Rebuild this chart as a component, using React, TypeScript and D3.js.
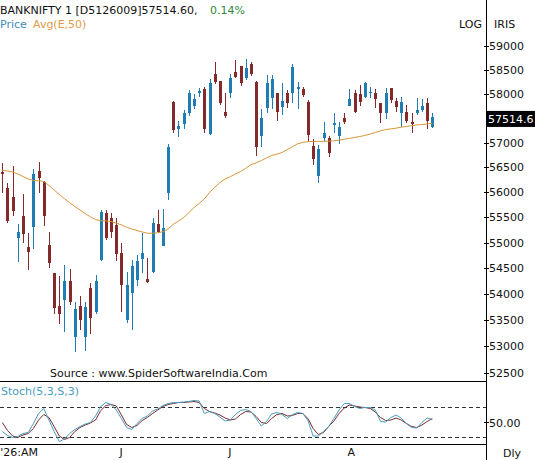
import * as d3 from "d3";

const dates = [
  "2026-04-27", "2026-04-28", "2026-04-29", "2026-04-30",
  "2026-05-04", "2026-05-05", "2026-05-06", "2026-05-07", "2026-05-08",
  "2026-05-11", "2026-05-12", "2026-05-13", "2026-05-14", "2026-05-15",
  "2026-05-18", "2026-05-19", "2026-05-20", "2026-05-21", "2026-05-22",
  "2026-05-25", "2026-05-26", "2026-05-28", "2026-05-29",
  "2026-06-01", "2026-06-02", "2026-06-03", "2026-06-04", "2026-06-05",
  "2026-06-08", "2026-06-09", "2026-06-10", "2026-06-11", "2026-06-12",
  "2026-06-15", "2026-06-16", "2026-06-17", "2026-06-18", "2026-06-19",
  "2026-06-22", "2026-06-23", "2026-06-24", "2026-06-25", "2026-06-29", "2026-06-30",
  "2026-07-01", "2026-07-02", "2026-07-03", "2026-07-06", "2026-07-07",
  "2026-07-08", "2026-07-09", "2026-07-10", "2026-07-13", "2026-07-14",
  "2026-07-15", "2026-07-16", "2026-07-17", "2026-07-20", "2026-07-21",
  "2026-07-22", "2026-07-23", "2026-07-24", "2026-07-27", "2026-07-28",
  "2026-07-29", "2026-07-30", "2026-07-31",
  "2026-08-03", "2026-08-04", "2026-08-05", "2026-08-06", "2026-08-07",
  "2026-08-10", "2026-08-11", "2026-08-12", "2026-08-13", "2026-08-14",
  "2026-08-17", "2026-08-18", "2026-08-19", "2026-08-20", "2026-08-21",
  "2026-08-24", "2026-08-25",
];

// open, high, low, close
const ohlc: [number, number, number, number][] = [
  [56410, 56580, 55980, 56360], [56080, 56180, 55390, 55430], [55910, 56530, 55530, 55625],
  [55100, 55370, 54630, 55215], [55525, 55965, 55000, 55165], [54920, 55185, 54465, 54825],
  [55315, 56465, 54875, 56365], [56425, 56600, 55990, 56290], [56210, 56220, 55335, 55530],
  [54955, 55205, 54500, 54610], [54400, 54410, 53615, 53725], [53770, 54350, 53420, 53610],
  [53885, 54565, 53280, 54260], [54255, 54480, 53790, 53855], [53185, 53855, 52900, 53715],
  [53770, 53960, 53310, 53500], [53185, 53855, 52920, 53755], [54125, 54220, 53230, 53535],
  [53650, 54370, 53610, 54255], [54660, 55645, 54650, 55605], [55585, 55645, 55050, 55090],
  [55485, 55580, 55100, 55210], [55350, 55480, 54640, 54770], [54790, 54985, 53660, 54175],
  [53500, 54420, 53440, 54175], [54015, 54660, 53310, 54545], [54270, 54760, 54160, 54640],
  [54675, 55185, 54400, 54790], [54290, 54705, 54210, 54230], [54420, 55490, 54410, 55380],
  [55360, 55645, 55185, 55205], [54935, 55665, 54925, 55285], [55990, 56965, 55845, 56905],
  [57840, 57845, 57200, 57260], [57280, 57440, 57110, 57340], [57380, 57670, 57280, 57610],
  [57610, 58080, 57550, 58025], [57750, 58000, 57680, 57890], [58010, 58115, 57940, 58065],
  [58095, 58135, 57190, 57270], [57170, 58305, 57160, 58220], [58415, 58665, 58205, 58245],
  [58270, 58275, 57770, 57820], [57620, 58010, 57495, 57550], [58010, 58405, 57910, 58325],
  [58450, 58705, 58325, 58355], [58580, 58585, 58165, 58220], [58325, 58720, 58290, 58530],
  [58625, 58670, 58370, 58415], [58255, 58260, 56730, 56915], [57135, 57680, 56915, 57495],
  [57705, 58395, 57600, 58235], [57910, 58395, 57680, 58310], [58010, 58015, 57450, 57635],
  [57725, 58220, 57565, 57860], [58025, 58080, 57705, 57805], [58010, 58625, 57820, 58565],
  [58100, 58255, 57680, 58135], [58095, 58150, 57940, 57975], [57840, 57875, 57020, 57145],
  [56930, 57075, 56545, 56670], [56325, 56950, 56190, 56870], [57090, 57425, 57020, 57190],
  [57090, 57135, 56715, 56795], [57360, 57600, 57190, 57395], [57135, 57425, 56970, 57325],
  [57495, 57600, 57380, 57425], [57750, 58095, 57745, 57890], [58010, 58080, 57600, 57635],
  [57995, 58185, 57750, 57825], [57940, 58255, 57910, 58220], [58025, 58150, 57910, 58035],
  [58010, 58095, 57705, 57890], [57805, 57810, 57395, 57600], [57600, 58115, 57475, 58025],
  [58115, 58120, 57805, 57875], [57860, 57910, 57635, 57725], [57600, 57940, 57325, 57840],
  [57620, 57770, 57405, 57450], [57415, 57600, 57190, 57380], [57600, 57910, 57565, 57670],
  [57670, 57890, 57635, 57750], [57820, 57910, 57270, 57434.2], [57325, 57600, 57290, 57514.6],
];

// Avg(E,50)
const ema50 = [
  56440, 56425, 56405, 56365, 56315, 56265, 56235, 56230, 56215, 56135,
  56045, 55955, 55870, 55790, 55715, 55645, 55575, 55510, 55455, 55435,
  55430, 55415, 55385, 55350, 55305, 55270, 55240, 55210, 55185, 55185,
  55195, 55215, 55270, 55360, 55425, 55495, 55590, 55695, 55775, 55865,
  55995, 56100, 56190, 56265, 56310, 56365, 56415, 56480, 56555, 56590,
  56635, 56690, 56740, 56765, 56800, 56860, 56915, 56975, 57005, 57020,
  57025, 57025, 57025, 57030, 57035, 57050, 57070, 57085, 57105, 57125,
  57145, 57175, 57205, 57240, 57265, 57280, 57295, 57315, 57330, 57345,
  57360, 57370, 57380, 57395,
];

// Stoch(5,3,S,3)
const stochK = [
  30, 22, 18, 20, 26, 28, 46, 66, 76, 53,
  30, 10, 15, 26, 34, 40, 45, 48, 61, 80,
  88, 84, 73, 56, 38, 34, 46, 56, 61, 71,
  75, 82, 86, 88, 88, 89, 90, 92, 91, 66,
  70, 66, 59, 51, 53, 64, 72, 74, 70, 56,
  41, 50, 65, 68, 64, 56, 64, 68, 66, 52,
  21, 21, 30, 40, 56, 73, 86, 86, 80, 76,
  78, 78, 73, 50, 49, 58, 63, 57, 46, 38,
  37, 48, 57, 54,
];
const stochD = [
  48, 32, 21, 18, 23, 26, 36, 53, 64, 58,
  40, 21, 14, 18, 30, 38, 43, 47, 53, 72,
  82, 84, 81, 63, 44, 38, 42, 52, 58, 66,
  73, 80, 84, 86, 88, 88, 89, 90, 88, 76,
  70, 67, 63, 57, 53, 55, 64, 70, 69, 60,
  48, 46, 56, 64, 66, 61, 62, 66, 66, 56,
  36, 24, 28, 40, 51, 66, 77, 83, 81, 79,
  78, 76, 69, 58, 52, 53, 57, 53, 46, 40,
  38, 43, 50, 56,
];

// 57500 sits under the last-price tag, so it gets no label
const priceTickLabels = [52500, 53000, 53500, 54000, 54500, 55000, 55500, 56000, 56500, 57000, 58000, 58500, 59000];
const stochLevels = [20, 80];
const monthLabels = [
  { date: "2026-04-27", text: "'26:AM" },
  { date: "2026-06-01", text: "J" },
  { date: "2026-07-01", text: "J" },
  { date: "2026-08-03", text: "A" },
];
const lastPrice = 57514.6;

const upColor = "#1f7db3";
const downColor = "#842a2a";
const font = "'DejaVu Sans', Verdana, sans-serif";

export default function App() {
  const width = 535;
  const height = 460;
  const axisX = 486;
  const panelTop = 381;
  const panelBottom = 444;

  const x = d3.scalePoint<string>().domain(dates).range([2.3, 432.3]);
  const y = d3.scaleLog().domain([52500, 59000]).range([373, 46]);
  const ys = d3.scaleLinear().domain([0, 100]).range([446.5, 396.5]);

  const cx = (i: number) => Math.round(x(dates[i]) ?? 0) + 0.5;

  const emaPath = d3.line<number>().x((_, i) => x(dates[i]) ?? 0).y((d) => y(d))(ema50) ?? "";
  const kPath = d3.line<number>().x((_, i) => x(dates[i]) ?? 0).y((d) => ys(d))(stochK) ?? "";
  const dPath = d3.line<number>().x((_, i) => x(dates[i]) ?? 0).y((d) => ys(d))(stochD) ?? "";

  return (
    <div>
      <style>{"body{margin:0}"}</style>
      <svg width={width} height={height} fontFamily={font} style={{ display: "block", background: "#fff" }}>
        {/* header */}
        <text x={0} y={14} fontSize={11} fill="#111">BANKNIFTY 1 [D5126009]57514.60,</text>
        <text x={210} y={14} fontSize={11} fill="#2f8a3a">0.14%</text>
        <text x={0} y={27.5} fontSize={11} fill="#3b8fb8">Price</text>
        <text x={33} y={27.5} fontSize={11} fill="#e19a48">Avg(E,50)</text>
        <text x={459} y={27.5} fontSize={11} fill="#111">LOG</text>
        <text x={494} y={27.5} fontSize={11} fill="#111">IRIS</text>

        {/* price axis */}
        <line x1={axisX + 0.5} x2={axisX + 0.5} y1={0} y2={height} stroke="#000" />
        {priceTickLabels.map((t) => (
          <g key={t}>
            <line x1={axisX - 2} x2={axisX + 3} y1={Math.round(y(t)) + 0.5} y2={Math.round(y(t)) + 0.5} stroke="#000" />
            <text x={axisX + 3} y={y(t) + 4} fontSize={11} fill="#111">{t}</text>
          </g>
        ))}

        {/* candles */}
        <g shapeRendering="crispEdges">
          {ohlc.map(([o, h, l, c], i) => {
            const col = c >= o ? upColor : downColor;
            const top = y(Math.max(o, c));
            const bot = y(Math.min(o, c));
            return (
              <g key={dates[i]}>
                <line x1={cx(i)} x2={cx(i)} y1={y(h)} y2={y(l)} stroke={col} />
                <rect x={cx(i) - 1.5} y={top} width={3} height={Math.max(1, bot - top)} fill={col} />
              </g>
            );
          })}
        </g>

        <path d={emaPath} fill="none" stroke="#d8973a" strokeWidth={1} />

        {/* last price tag */}
        <rect x={axisX + 1} y={y(lastPrice) - 6.5} width={width - axisX - 1} height={16} fill="#000" />
        <text x={axisX + 2} y={y(lastPrice) + 5.5} fontSize={11} fill="#fff">57514.6</text>

        <text x={50} y={377} fontSize={11} fill="#111">Source : www.SpiderSoftwareIndia.Com</text>

        {/* stochastic panel */}
        <line x1={0} x2={axisX} y1={panelTop + 0.5} y2={panelTop + 0.5} stroke="#000" />
        <line x1={0} x2={axisX} y1={panelBottom + 0.5} y2={panelBottom + 0.5} stroke="#000" />
        <text x={1} y={395} fontSize={11} fill="#4a9bbd">Stoch(5,3,S,3)</text>
        {stochLevels.map((lv) => (
          <line key={lv} x1={0} x2={axisX} y1={Math.round(ys(lv)) + 0.5} y2={Math.round(ys(lv)) + 0.5}
            stroke="#333" strokeDasharray="4 3" />
        ))}
        <line x1={axisX - 2} x2={axisX + 3} y1={Math.round(ys(50)) + 0.5} y2={Math.round(ys(50)) + 0.5} stroke="#000" />
        <text x={axisX + 3} y={ys(50) + 5} fontSize={11} fill="#111">50.00</text>
        <path d={dPath} fill="none" stroke="#7a2a2a" strokeWidth={1} />
        <path d={kPath} fill="none" stroke="#4a9cc0" strokeWidth={1} />

        {/* date axis */}
        {monthLabels.map((m) => (
          <text key={m.date} x={(x(m.date) ?? 0) - 2} y={456} fontSize={11} fill="#111">{m.text}</text>
        ))}
        <text x={503} y={457} fontSize={11} fill="#111">Dly</text>
      </svg>
    </div>
  );
}
